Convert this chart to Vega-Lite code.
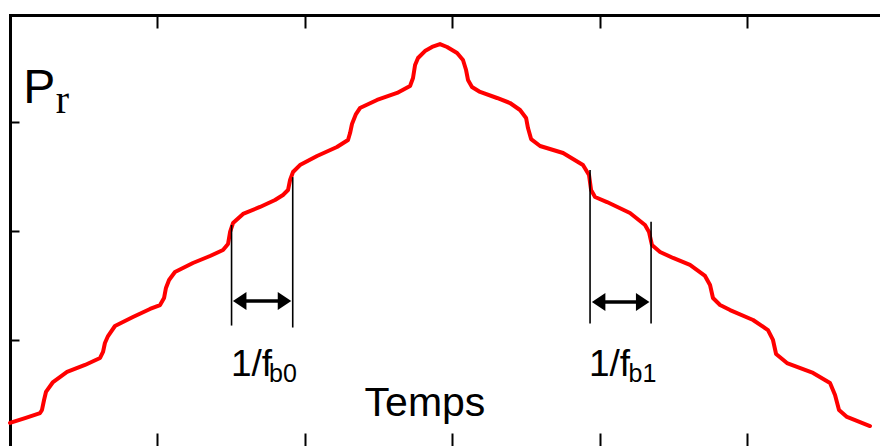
{
  "$schema": "https://vega.github.io/schema/vega-lite/v6.json",
  "width": 870,
  "height": 431,
  "autosize": "none",
  "padding": {"left": 10, "top": 15, "right": 0, "bottom": 0},
  "background": "white",
  "config": {"view": {"stroke": null}},
  "datasets": {
    "curve": [
      {"t": 0.000, "p": 0.243}, {"t": 0.102, "p": 0.288}, {"t": 0.204, "p": 0.334}, {"t": 0.217, "p": 0.362},
      {"t": 0.231, "p": 0.453}, {"t": 0.244, "p": 0.527}, {"t": 0.292, "p": 0.618}, {"t": 0.387, "p": 0.710},
      {"t": 0.509, "p": 0.774}, {"t": 0.611, "p": 0.838}, {"t": 0.631, "p": 0.893}, {"t": 0.644, "p": 0.975},
      {"t": 0.665, "p": 1.039}, {"t": 0.712, "p": 1.131}, {"t": 0.834, "p": 1.213}, {"t": 0.950, "p": 1.287},
      {"t": 1.018, "p": 1.323}, {"t": 1.045, "p": 1.387}, {"t": 1.058, "p": 1.479}, {"t": 1.079, "p": 1.552},
      {"t": 1.119, "p": 1.625}, {"t": 1.241, "p": 1.708}, {"t": 1.357, "p": 1.772}, {"t": 1.445, "p": 1.827},
      {"t": 1.479, "p": 1.882}, {"t": 1.493, "p": 1.992}, {"t": 1.513, "p": 2.074}, {"t": 1.581, "p": 2.157},
      {"t": 1.696, "p": 2.221}, {"t": 1.798, "p": 2.285}, {"t": 1.852, "p": 2.331}, {"t": 1.886, "p": 2.376},
      {"t": 1.900, "p": 2.468}, {"t": 1.920, "p": 2.541}, {"t": 1.967, "p": 2.605}, {"t": 2.083, "p": 2.688},
      {"t": 2.218, "p": 2.770}, {"t": 2.293, "p": 2.834}, {"t": 2.307, "p": 2.898}, {"t": 2.320, "p": 2.981},
      {"t": 2.347, "p": 3.072}, {"t": 2.374, "p": 3.127}, {"t": 2.490, "p": 3.201}, {"t": 2.626, "p": 3.265},
      {"t": 2.714, "p": 3.329}, {"t": 2.734, "p": 3.402}, {"t": 2.748, "p": 3.521}, {"t": 2.768, "p": 3.585},
      {"t": 2.815, "p": 3.649}, {"t": 2.863, "p": 3.686}, {"t": 2.917, "p": 3.713},
      {"t": 2.965, "p": 3.686}, {"t": 3.033, "p": 3.631}, {"t": 3.073, "p": 3.567}, {"t": 3.094, "p": 3.475},
      {"t": 3.107, "p": 3.384}, {"t": 3.134, "p": 3.320}, {"t": 3.189, "p": 3.274}, {"t": 3.304, "p": 3.219},
      {"t": 3.392, "p": 3.173}, {"t": 3.460, "p": 3.109}, {"t": 3.501, "p": 3.036}, {"t": 3.514, "p": 2.944},
      {"t": 3.535, "p": 2.843}, {"t": 3.596, "p": 2.779}, {"t": 3.752, "p": 2.715}, {"t": 3.887, "p": 2.605},
      {"t": 3.928, "p": 2.514}, {"t": 3.942, "p": 2.376}, {"t": 3.969, "p": 2.312}, {"t": 4.050, "p": 2.266},
      {"t": 4.206, "p": 2.166}, {"t": 4.308, "p": 2.056}, {"t": 4.335, "p": 1.992}, {"t": 4.355, "p": 1.873},
      {"t": 4.410, "p": 1.809}, {"t": 4.498, "p": 1.754}, {"t": 4.613, "p": 1.690}, {"t": 4.715, "p": 1.589},
      {"t": 4.749, "p": 1.506}, {"t": 4.769, "p": 1.387}, {"t": 4.817, "p": 1.323}, {"t": 4.885, "p": 1.277},
      {"t": 5.041, "p": 1.186}, {"t": 5.142, "p": 1.094}, {"t": 5.176, "p": 1.003}, {"t": 5.197, "p": 0.875},
      {"t": 5.271, "p": 0.792}, {"t": 5.448, "p": 0.701}, {"t": 5.563, "p": 0.609}, {"t": 5.597, "p": 0.499},
      {"t": 5.624, "p": 0.362}, {"t": 5.678, "p": 0.298}, {"t": 5.834, "p": 0.215}
    ],
    "vlines": [
      {"t": 1.503, "p1": 1.135, "p2": 2.056},
      {"t": 1.918, "p1": 1.117, "p2": 2.494},
      {"t": 3.935, "p1": 1.153, "p2": 2.559},
      {"t": 4.349, "p1": 1.153, "p2": 2.086}
    ],
    "shafts": [
      {"t1": 1.570, "t2": 1.855, "p": 1.360},
      {"t1": 4.005, "t2": 4.280, "p": 1.350}
    ],
    "headsLeft": [
      {"t": 1.558, "p": 1.360},
      {"t": 3.993, "p": 1.350}
    ],
    "headsRight": [
      {"t": 1.862, "p": 1.360},
      {"t": 4.292, "p": 1.350}
    ],
    "mainLabels": [
      {"t": 1.499, "p": 0.673, "label": "1/f"},
      {"t": 3.928, "p": 0.673, "label": "1/f"}
    ],
    "subLabels": [
      {"t": 1.757, "p": 0.618, "label": "b0"},
      {"t": 4.196, "p": 0.618, "label": "b1"}
    ]
  },
  "resolve": {"axis": {"x": "independent", "y": "independent"}},
  "encoding": {
    "x": {"type": "quantitative", "scale": {"domain": [0, 5.902], "nice": false, "zero": false}},
    "y": {"type": "quantitative", "scale": {"domain": [0.032, 3.979], "nice": false, "zero": false}}
  },
  "layer": [
    {
      "data": {"name": "curve"},
      "mark": {"type": "line", "color": "#ff0000", "strokeWidth": 4, "strokeJoin": "round", "strokeCap": "round"},
      "encoding": {
        "x": {"field": "t", "type": "quantitative", "axis": {"orient": "top", "values": [1, 2, 3, 4, 5], "labels": false, "title": null, "grid": false, "domain": true, "domainColor": "#000000", "domainWidth": 3, "domainCap": "square", "ticks": true, "tickColor": "#000000", "tickWidth": 2, "tickSize": -13}},
        "y": {"field": "p", "type": "quantitative", "axis": {"orient": "left", "values": [1, 2, 3], "labels": false, "title": null, "grid": false, "domain": true, "domainColor": "#000000", "domainWidth": 3, "domainCap": "square", "ticks": true, "tickColor": "#000000", "tickWidth": 2, "tickSize": -9}}
      }
    },
    {
      "data": {"name": "vlines"},
      "mark": {"type": "rule", "color": "#000000", "strokeWidth": 1.6},
      "encoding": {
        "x": {"field": "t", "type": "quantitative", "axis": {"orient": "bottom", "values": [1, 2, 3, 4, 5], "labels": false, "title": null, "grid": false, "domain": false, "ticks": true, "tickColor": "#000000", "tickWidth": 2, "tickSize": -13}},
        "y": {"field": "p1", "type": "quantitative", "axis": null},
        "y2": {"field": "p2"}
      }
    },
    {
      "data": {"name": "shafts"},
      "mark": {"type": "rule", "color": "#000000", "strokeWidth": 3.5},
      "encoding": {
        "x": {"field": "t1", "type": "quantitative", "axis": null},
        "x2": {"field": "t2"},
        "y": {"field": "p", "type": "quantitative", "axis": null}
      }
    },
    {
      "data": {"name": "headsLeft"},
      "mark": {"type": "point", "shape": "M-0.75,0L0.75,-1L0.75,1Z", "filled": true, "color": "#000000", "opacity": 1, "size": 324},
      "encoding": {
        "x": {"field": "t", "type": "quantitative", "axis": null},
        "y": {"field": "p", "type": "quantitative", "axis": null}
      }
    },
    {
      "data": {"name": "headsRight"},
      "mark": {"type": "point", "shape": "M0.75,0L-0.75,-1L-0.75,1Z", "filled": true, "color": "#000000", "opacity": 1, "size": 324},
      "encoding": {
        "x": {"field": "t", "type": "quantitative", "axis": null},
        "y": {"field": "p", "type": "quantitative", "axis": null}
      }
    },
    {
      "data": {"name": "mainLabels"},
      "mark": {"type": "text", "align": "left", "baseline": "alphabetic", "font": "Liberation Sans, Arial, sans-serif", "fontSize": 37, "color": "#000000"},
      "encoding": {
        "x": {"field": "t", "type": "quantitative", "axis": null},
        "y": {"field": "p", "type": "quantitative", "axis": null},
        "text": {"field": "label"}
      }
    },
    {
      "data": {"name": "subLabels"},
      "mark": {"type": "text", "align": "left", "baseline": "alphabetic", "font": "Liberation Sans, Arial, sans-serif", "fontSize": 25, "color": "#000000"},
      "encoding": {
        "x": {"field": "t", "type": "quantitative", "axis": null},
        "y": {"field": "p", "type": "quantitative", "axis": null},
        "text": {"field": "label"}
      }
    },
    {
      "data": {"values": [{"t": 2.815, "p": 0.307, "label": "Temps"}]},
      "mark": {"type": "text", "align": "center", "baseline": "alphabetic", "font": "Liberation Sans, Arial, sans-serif", "fontSize": 41, "color": "#000000"},
      "encoding": {
        "x": {"field": "t", "type": "quantitative", "axis": null},
        "y": {"field": "p", "type": "quantitative", "axis": null},
        "text": {"field": "label"}
      }
    },
    {
      "data": {"values": [{"t": 0.09, "p": 3.173, "label": "P"}]},
      "mark": {"type": "text", "align": "left", "baseline": "alphabetic", "font": "Liberation Sans, Arial, sans-serif", "fontSize": 48, "color": "#000000"},
      "encoding": {
        "x": {"field": "t", "type": "quantitative", "axis": null},
        "y": {"field": "p", "type": "quantitative", "axis": null},
        "text": {"field": "label"}
      }
    },
    {
      "data": {"values": [{"t": 0.31, "p": 3.082, "label": "r"}]},
      "mark": {"type": "text", "align": "left", "baseline": "alphabetic", "font": "Liberation Serif, Times New Roman, serif", "fontSize": 40, "color": "#000000"},
      "encoding": {
        "x": {"field": "t", "type": "quantitative", "axis": null},
        "y": {"field": "p", "type": "quantitative", "axis": null},
        "text": {"field": "label"}
      }
    }
  ]
}
